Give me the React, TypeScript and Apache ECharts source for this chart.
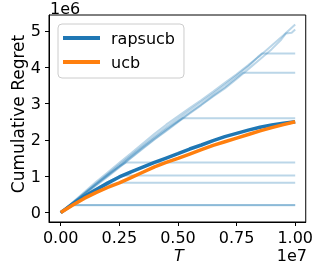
import React, { useEffect, useRef } from "react";
import * as echarts from "echarts";

// x in units of 1e7, y in units of 1e6
const xGrid = [0, 0.05, 0.1, 0.15, 0.2, 0.25, 0.3, 0.35, 0.4, 0.45, 0.5, 0.55, 0.6, 0.65, 0.7, 0.75, 0.8, 0.85, 0.9, 0.95, 1.0];
const rapsucbMean = [0, 0.23, 0.44, 0.63, 0.81, 0.98, 1.12, 1.25, 1.38, 1.5, 1.62, 1.75, 1.86, 1.98, 2.09, 2.18, 2.27, 2.35, 2.41, 2.46, 2.5];
const ucbMean = [0, 0.2, 0.39, 0.55, 0.69, 0.82, 0.96, 1.11, 1.26, 1.38, 1.49, 1.61, 1.73, 1.85, 1.95, 2.05, 2.15, 2.25, 2.34, 2.42, 2.5];

// individual rapsucb runs (faint lines)
const runA = [[0, 0], [0.02, 0.1], [0.045, 0.2], [1.0, 0.2]];
const runB = [[0, 0], [0.025, 0.11], [0.05, 0.205], [1.0, 0.205]];
const runC = [[0, 0], [0.05, 0.22], [0.1, 0.43], [0.15, 0.61], [0.2, 0.75], [0.25, 0.82], [1.0, 0.82]];
const runD = [[0, 0], [0.05, 0.23], [0.1, 0.45], [0.15, 0.65], [0.2, 0.84], [0.26, 1.02], [1.0, 1.02]];
const runE = [[0, 0], [0.05, 0.26], [0.1, 0.52], [0.15, 0.78], [0.2, 1.03], [0.25, 1.27], [0.28, 1.38], [1.0, 1.38]];
const runF = [[0, 0], [0.05, 0.26], [0.1, 0.52], [0.15, 0.78], [0.2, 1.04], [0.25, 1.29], [0.3, 1.55], [0.35, 1.81], [0.4, 2.06], [0.45, 2.3], [0.52, 2.6], [1.0, 2.6]];
const runG = [[0, 0], [0.05, 0.25], [0.1, 0.5], [0.15, 0.76], [0.2, 1.01], [0.25, 1.26], [0.3, 1.52], [0.35, 1.78], [0.4, 2.03], [0.45, 2.27], [0.5, 2.51], [0.55, 2.75], [0.6, 2.98], [0.65, 3.22], [0.7, 3.45], [0.75, 3.71], [0.777, 3.85], [1.0, 3.85]];
const runH = [[0, 0], [0.05, 0.26], [0.1, 0.53], [0.15, 0.8], [0.2, 1.06], [0.25, 1.32], [0.3, 1.58], [0.35, 1.84], [0.4, 2.1], [0.45, 2.35], [0.5, 2.58], [0.55, 2.82], [0.6, 3.05], [0.65, 3.28], [0.7, 3.52], [0.75, 3.77], [0.8, 4.03], [0.84, 4.28], [0.858, 4.38], [1.0, 4.38]];
const runI = [[0, 0], [0.05, 0.28], [0.1, 0.56], [0.15, 0.84], [0.2, 1.1], [0.25, 1.37], [0.3, 1.63], [0.35, 1.9], [0.4, 2.17], [0.45, 2.42], [0.5, 2.65], [0.55, 2.88], [0.6, 3.1], [0.65, 3.33], [0.7, 3.57], [0.75, 3.81], [0.8, 4.06], [0.85, 4.32], [0.9, 4.6], [0.95, 4.88], [1.0, 5.18]];
const runJ = [[0, 0], [0.05, 0.25], [0.1, 0.49], [0.15, 0.74], [0.2, 0.99], [0.25, 1.24], [0.3, 1.5], [0.35, 1.76], [0.4, 2.01], [0.45, 2.25], [0.5, 2.49], [0.55, 2.73], [0.6, 2.96], [0.65, 3.2], [0.7, 3.42], [0.75, 3.68], [0.8, 3.95], [0.85, 4.22], [0.9, 4.5], [0.94, 4.76], [0.96, 4.93], [0.985, 4.95], [1.0, 5.04]];
const runs = [runA, runB, runC, runD, runE, runF, runG, runH, runI, runJ];

const xTicks = [0, 0.25, 0.5, 0.75, 1.0];
const xTickLabels = ["0.00", "0.25", "0.50", "0.75", "1.00"];
const yTicks = [0, 1, 2, 3, 4, 5];
const yTickLabels = ["0", "1", "2", "3", "4", "5"];

const FONT = "DejaVu Sans";

export default function App() {
  const ref = useRef<HTMLDivElement>(null);
  useEffect(() => {
    if (!ref.current) return;
    const chart = echarts.init(ref.current, null, { renderer: "svg" });
    const faint = runs.map((r) => ({
      type: "line",
      data: r,
      symbol: "none",
      silent: true,
      color: "#1f77b4",
      lineStyle: { color: "#1f77b4", width: 2, opacity: 0.3 },
      z: 2,
    }));
    chart.setOption({
      animation: false,
      textStyle: { fontFamily: FONT },
      grid: { left: 49, top: 15, right: 9, bottom: 47, show: true, borderColor: "#000", borderWidth: 1 },
      legend: {
        data: ["rapsucb", "ucb"],
        orient: "vertical",
        left: 58,
        top: 24,
        icon: "rect",
        itemWidth: 37,
        itemHeight: 4,
        itemGap: 6,
        padding: [5, 9, 7, 5],
        backgroundColor: "rgba(255,255,255,0.8)",
        borderColor: "#cccccc",
        borderWidth: 1,
        borderRadius: 4,
        textStyle: { fontSize: 16, color: "#000", fontFamily: FONT, lineHeight: 18, padding: [0, 0, 0, 6] },
      },
      xAxis: {
        type: "value",
        min: -0.05,
        max: 1.045,
        splitLine: { show: false },
        axisLine: { show: true, onZero: false, lineStyle: { color: "#000", width: 1 } },
        axisTick: { show: true, length: 4, customValues: xTicks, lineStyle: { color: "#000" } },
        axisLabel: {
          customValues: xTicks,
          formatter: (v: number) => xTickLabels[xTicks.indexOf(v)] ?? "",
          fontSize: 16,
          color: "#000",
          fontFamily: FONT,
          margin: 7,
        },
      },
      yAxis: {
        type: "value",
        min: -0.26,
        max: 5.44,
        splitLine: { show: false },
        axisLine: { show: true, onZero: false, lineStyle: { color: "#000", width: 1 } },
        axisTick: { show: true, length: 4, customValues: yTicks, lineStyle: { color: "#000" } },
        axisLabel: {
          customValues: yTicks,
          formatter: (v: number) => yTickLabels[yTicks.indexOf(v)] ?? "",
          fontSize: 16,
          color: "#000",
          fontFamily: FONT,
          margin: 8,
        },
      },
      graphic: [
        { type: "text", left: 50, top: 0, style: { text: "1e6", fontSize: 16, fill: "#000", fontFamily: FONT } },
        { type: "text", x: 307, y: 255, style: { text: "1e7", fontSize: 16, fill: "#000", fontFamily: FONT, align: "right", verticalAlign: "middle" } },
        { type: "text", x: 179, y: 255, style: { text: "T", fontSize: 16, fontStyle: "italic", fill: "#000", fontFamily: FONT, align: "center", verticalAlign: "middle" } },
        { type: "text", x: 18, y: 114, rotation: Math.PI / 2, style: { text: "Cumulative Regret", fontSize: 17, fill: "#000", fontFamily: FONT, align: "center", verticalAlign: "middle" } },
      ],
      series: [
        ...faint,
        {
          name: "rapsucb",
          type: "line",
          data: xGrid.map((x, i) => [x, rapsucbMean[i]]),
          symbol: "none",
          color: "#1f77b4",
          lineStyle: { color: "#1f77b4", width: 3.5 },
          z: 3,
        },
        {
          name: "ucb",
          type: "line",
          data: xGrid.map((x, i) => [x, ucbMean[i]]),
          symbol: "none",
          color: "#ff7f0e",
          lineStyle: { color: "#ff7f0e", width: 3.5 },
          z: 4,
        },
      ],
    });
    return () => chart.dispose();
  }, []);
  return <div ref={ref} style={{ position: "fixed", left: 0, top: 0, width: 316, height: 269 }} />;
}
